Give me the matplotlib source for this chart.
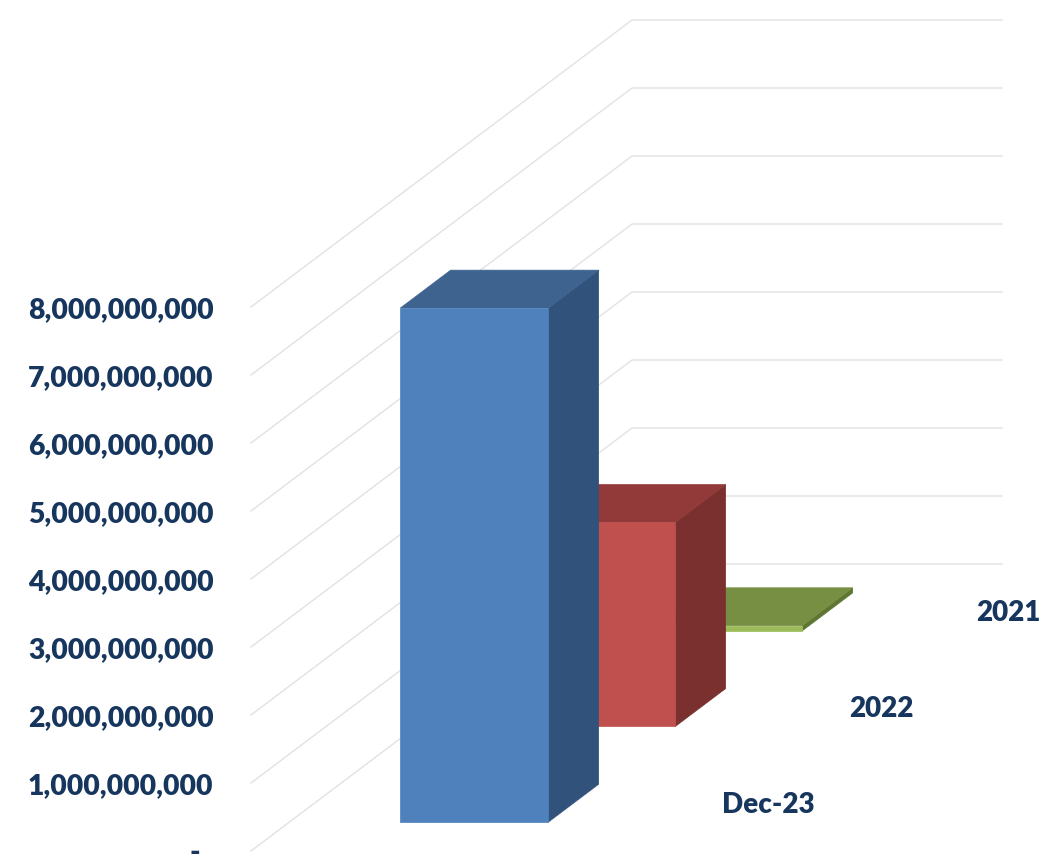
import matplotlib as mpl
mpl.use('Agg')

from matplotlib import pyplot as plt
from matplotlib.patches import Polygon

categories = ["Dec-23", "2022", "2021"]
values = [7.56e9, 3.0e9, 0.075e9]
ticks = [0, 1e9, 2e9, 3e9, 4e9, 5e9, 6e9, 7e9, 8e9]

front_colors = ["#4F81BD", "#C0504D", "#9BBB59"]
top_colors = ["#3E638F", "#923A39", "#778F42"]
side_colors = ["#31527A", "#7A302E", "#5F7533"]

TEXT = "#17365D"
GRID = "#E2E2E2"

# pixels of the fake 3d box
X0, Y0 = 251, 851
DEPTH_X, DEPTH_Y = 381, 287
PX_PER_UNIT = 68 / 1e9
BACK_W = 370
BAR_X, BAR_W = 111, 148
BAR_DEPTH = 0.066


def proj(x, depth, value):
    """Project (x along the floor, depth 0-1, value) onto the picture."""
    return (X0 + x + depth * DEPTH_X,
            Y0 - depth * DEPTH_Y - value * PX_PER_UNIT)


def draw_bar(ax, i, value):
    center = (i + 0.5) / len(categories)
    d0, d1 = center - BAR_DEPTH, center + BAR_DEPTH
    x0, x1 = BAR_X, BAR_X + BAR_W
    front = [proj(x0, d0, 0), proj(x1, d0, 0), proj(x1, d0, value), proj(x0, d0, value)]
    side = [proj(x1, d0, 0), proj(x1, d1, 0), proj(x1, d1, value), proj(x1, d0, value)]
    top = [proj(x0, d0, value), proj(x1, d0, value), proj(x1, d1, value), proj(x0, d1, value)]
    ax.add_patch(Polygon(side, fc=side_colors[i], ec=side_colors[i], lw=0.5, zorder=3))
    ax.add_patch(Polygon(top, fc=top_colors[i], ec=top_colors[i], lw=0.5, zorder=3))
    ax.add_patch(Polygon(front, fc=front_colors[i], ec=front_colors[i], lw=0.5, zorder=3))


fig = plt.figure(figsize=(10.58, 8.65), dpi=100)
ax = fig.add_axes([0, 0, 1, 1])
ax.set_xlim(0, 1058)
ax.set_ylim(865, 0)
ax.axis("off")

for t in ticks:
    a = proj(0, 0, t)
    b = proj(0, 1, t)
    ax.plot([a[0], b[0], b[0] + BACK_W], [a[1], b[1], b[1]], c=GRID, lw=1, zorder=1)
    label = "-" if t == 0 else format(int(t), ",")
    ax.text(200 if t == 0 else 213.5, a[1] + 2.5 if t == 0 else a[1] + 3, label,
            ha="right", va="center", color=TEXT, family="Lato", weight="heavy",
            fontsize=20.4)

# back to front so the nearer bars cover the others
for i in range(len(categories) - 1, -1, -1):
    draw_bar(ax, i, values[i])

for i, name in enumerate(categories):
    x, y = proj(408, (i + 0.5) / len(categories), 0)
    ax.text(x, y + 1.5, name, ha="left", va="center",
            color=TEXT, family="Lato", weight="heavy", fontsize=20)

fig.savefig("out.png", dpi=100)
